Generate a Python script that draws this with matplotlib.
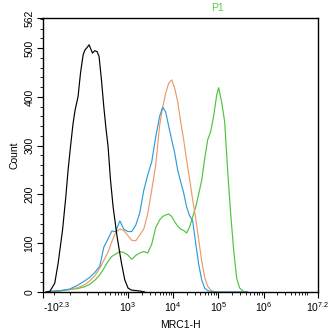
import matplotlib
matplotlib.use("Agg")
import matplotlib.pyplot as plt
from matplotlib.ticker import FixedLocator, FixedFormatter
import numpy as np

plt.rcParams['font.family'] = ['Liberation Sans', 'DejaVu Sans']
plt.rcParams['mathtext.fontset'] = 'custom'
plt.rcParams['mathtext.rm'] = 'Liberation Sans'
plt.rcParams['mathtext.it'] = 'Liberation Sans:italic'

# black (control) histogram: MRC1-H value, count
black_x = [-169, -132, -93, -70, -43, -24.5, -12, 1, 15, 26, 43, 57.5, 74, 85.5,
           97.6, 117.6, 129, 147, 169, 194, 217, 248, 282, 314, 355, 403, 462,
           569, 714, 845, 1000, 1189, 1814, 2339]
black_count = [0, 1, 18, 59, 127, 195, 250, 298, 346, 373, 401, 449, 486, 496,
               500, 507, 500, 490, 495, 493, 483, 435, 380, 339, 298, 230, 175,
               113, 59, 25, 8, 4, 2, 0]

# shared channel grid for the three stained samples
grid_x = [-150, -93, -47, -3, 41, 86, 123, 169, 226, 282, 350, 432, 532, 654, 803, 986,
          1207, 1480, 1814, 2223, 2725, 3341, 4095, 5019,
          5847, 6812, 7935, 9242, 10766, 12542, 14608, 17017, 19823, 23090, 26900,
          31340, 36510, 42530, 49550, 57710, 67230, 78320, 91240,
          101000, 117700, 137100, 159700, 186100, 216700, 252500, 294100, 360600, 441900]

blue_count = [1, 2, 3, 6, 14, 23, 30, 40, 53, 92, 108, 125, 124, 146, 129, 124,
              124, 137, 162, 208, 240, 267, 318, 361,
              379, 369, 340, 312, 285, 250, 226, 203, 174, 156, 146, 100, 57, 25, 8,
              3, 1, 0, 0,
              0, 0, 0, 0, 0, 0, 0, 0, 0, 0]

orange_count = [1, 2, 3, 5, 9, 15, 23, 33, 49, 65, 81, 103, 123, 129, 126, 116,
                106, 105, 117, 129, 160, 209, 260, 343,
                379, 408, 428, 435, 418, 390, 349, 312, 269, 230, 189, 151, 107, 64, 30,
                12, 4, 1, 0,
                0, 0, 0, 0, 0, 0, 0, 0, 0, 0]

green_count = [0, 1, 3, 5, 7, 11, 16, 24, 35, 48, 62, 73, 78, 83, 81, 76,
               67, 75, 80, 83, 80, 98, 132, 148,
               155, 158, 160, 155, 144, 135, 129, 126, 121, 134, 154, 174, 201, 229, 274,
               312, 329, 361, 404,
               419, 389, 349, 248, 160, 86, 28, 8, 1, 0]

x_major = [-10 ** 2.3, 1e3, 1e4, 1e5, 1e6, 10 ** 7.2]
x_major_labels = [r'-$10^{2.3}$', r'$10^{3}$', r'$10^{4}$', r'$10^{5}$', r'$10^{6}$', r'$10^{7.2}$']
y_major = [0, 100, 200, 300, 400, 500, 562]

C = 106.0


def fwd(v):
    return np.arcsinh(np.asarray(v, dtype=float) / C)


def inv(u):
    return C * np.sinh(np.asarray(u, dtype=float))


def x_minor():
    ticks = [-100, 0] + list(range(100, 1000, 100))
    for e in range(3, 7):
        for k in range(2, 10):
            if k * 10 ** e < 10 ** 7.2:
                ticks.append(k * 10 ** e)
    return ticks


def main():
    fig = plt.figure(figsize=(3.32, 3.35), dpi=100)
    ax = fig.add_axes([43 / 332, 1 - 292 / 335, 275 / 332, 274 / 335])

    lw = 0.85
    ax.plot(grid_x, green_count, color='#4fc23e', lw=lw)
    ax.plot(grid_x, orange_count, color='#ec9a68', lw=lw)
    ax.plot(grid_x, blue_count, color='#2d9ed8', lw=lw)
    ax.plot(black_x, black_count, color='black', lw=lw)

    ax.set_xscale('function', functions=(fwd, inv))
    ax.set_xlim(-10 ** 2.3, 10 ** 7.2)
    ax.set_ylim(0, 562)

    ax.xaxis.set_major_locator(FixedLocator(x_major))
    ax.xaxis.set_major_formatter(FixedFormatter(x_major_labels))
    ax.xaxis.set_minor_locator(FixedLocator(x_minor()))
    ax.yaxis.set_major_locator(FixedLocator(y_major))
    ax.yaxis.set_minor_locator(FixedLocator(list(range(20, 562, 20))))

    ax.tick_params(which='major', direction='out', length=4, width=0.8, labelsize=7.5, pad=2)
    ax.tick_params(which='minor', direction='out', length=2, width=0.6)
    for lab in ax.get_yticklabels():
        lab.set_rotation(90)
        lab.set_va('center')
    ax.get_xticklabels()[0].set_ha('left')

    for sp in ax.spines.values():
        sp.set_linewidth(1.0)

    ax.set_xlabel("MRC1-H", fontsize=7.5, labelpad=4)
    ax.set_ylabel("Count", fontsize=7.5, labelpad=4)
    fig.text(218 / 332, 1 - 8 / 335, "P1", color='#5cc84c', fontsize=7.5, ha='center', va='center')

    fig.savefig("out.png", dpi=100)


if __name__ == '__main__':
    main()
